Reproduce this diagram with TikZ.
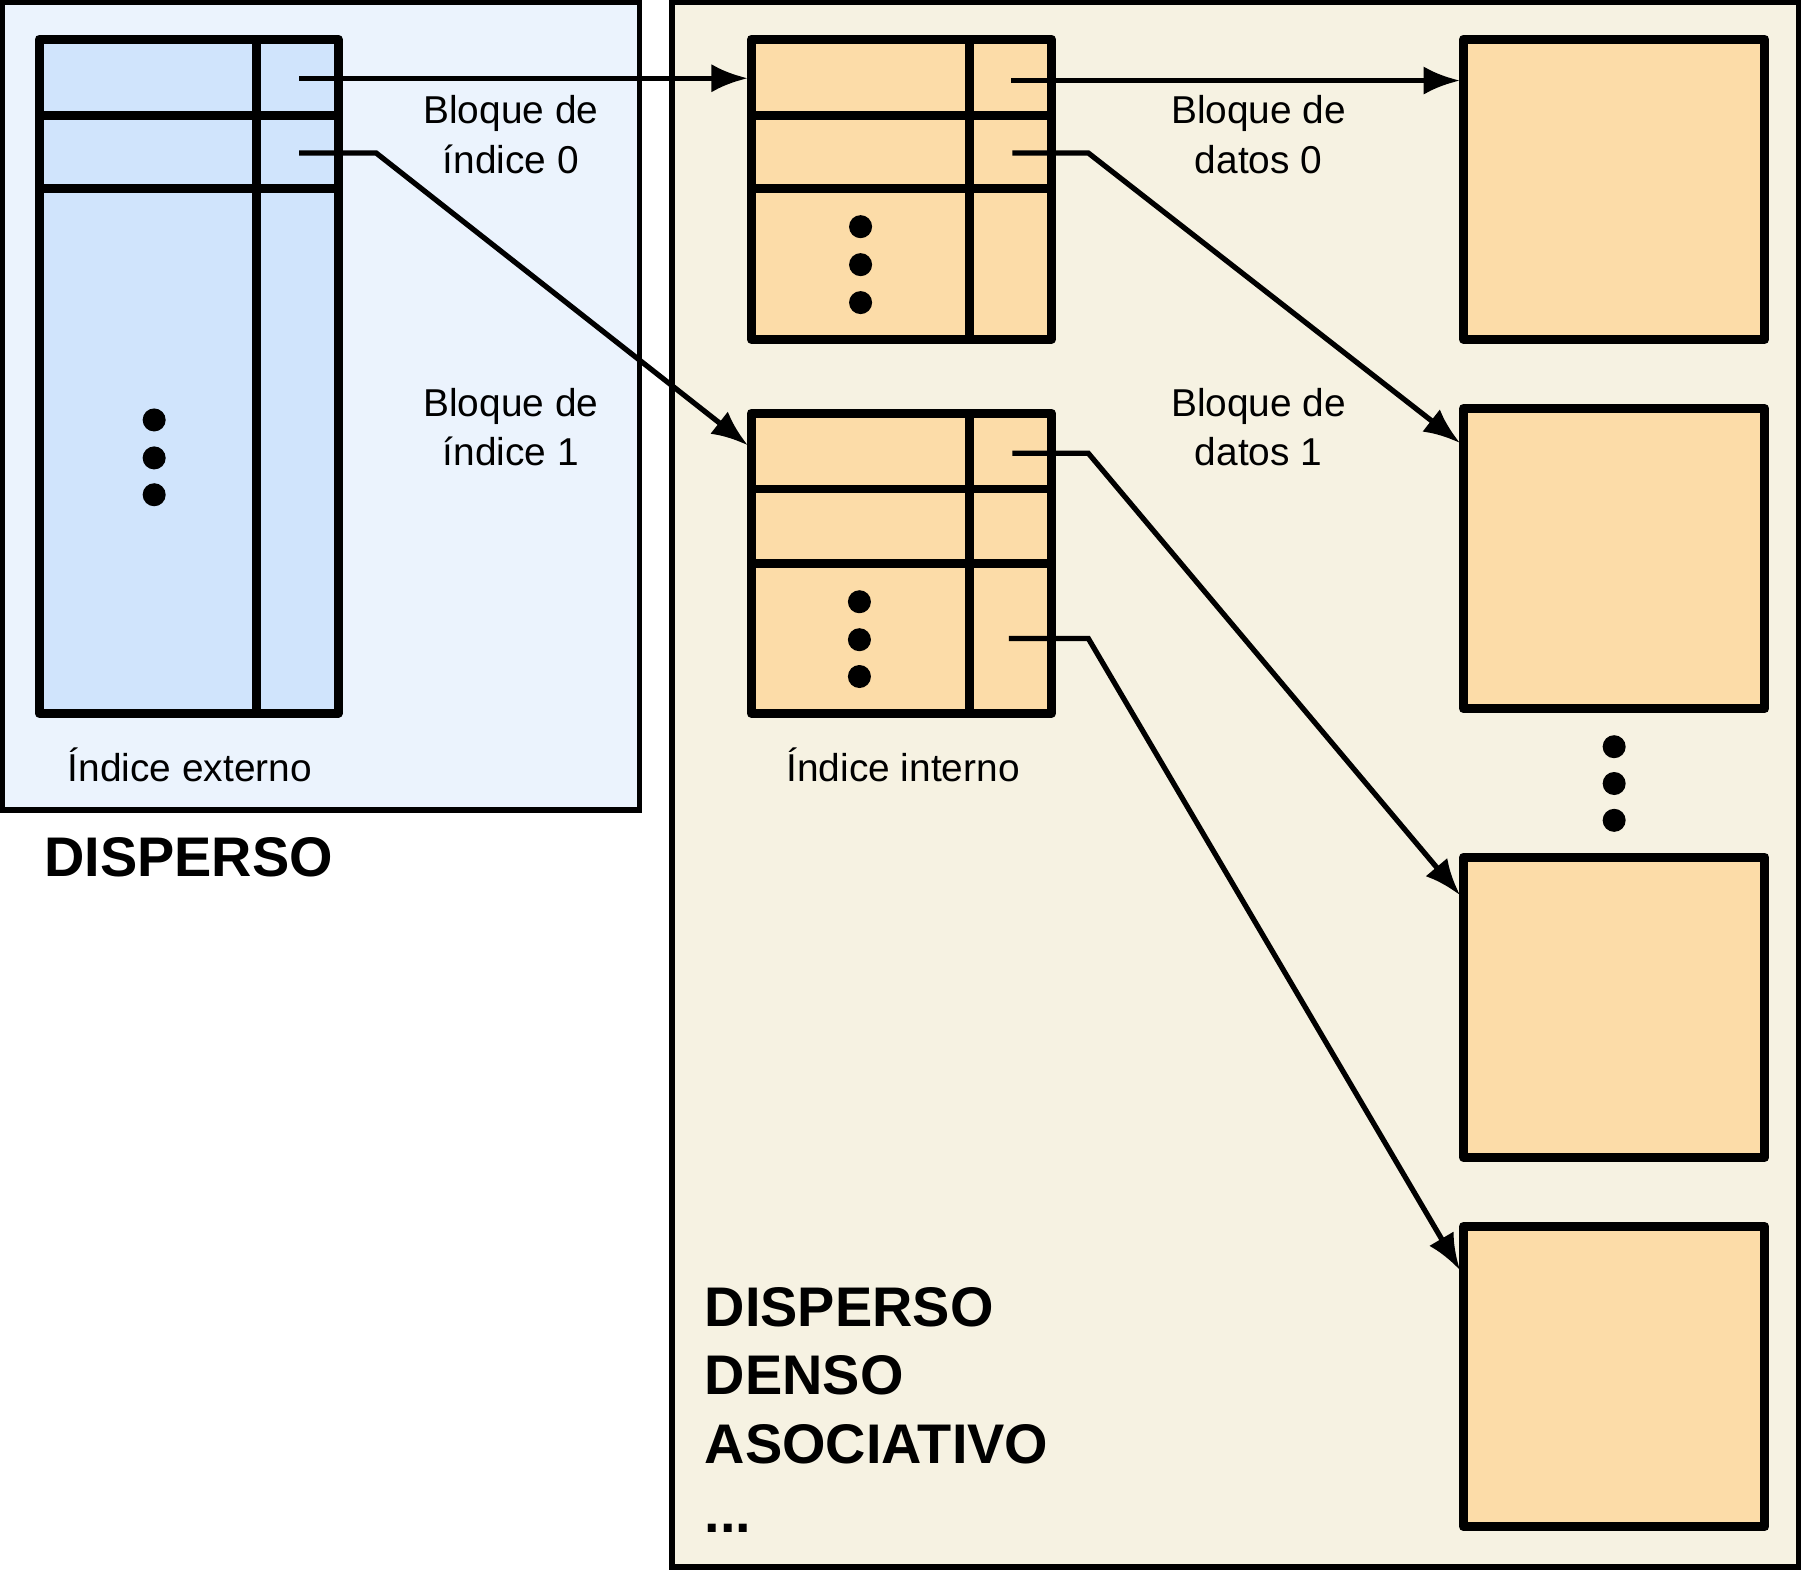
\documentclass[tikz,border=0pt]{standalone}
\usepackage{fontspec}
\setmainfont{Liberation Sans}
\usetikzlibrary{positioning}
\definecolor{outerbg}{HTML}{EBF3FD}
\definecolor{innerbg}{HTML}{F6F2E2}
\definecolor{bluecell}{HTML}{D0E4FC}
\definecolor{orangecell}{HTML}{FCDCA8}
\tikzset{
  panel/.style = {draw, line width=1.3pt},
  table/.style = {draw, line width=2.2pt, line join=round},
  dot/.style = {circle, fill, inner sep=0pt, minimum size=0.2cm},
  lbl/.style = {align=center, font=\fontsize{9.6}{12.2}\selectfont},
  big/.style = {align=left, anchor=north west, font=\fontsize{13.8}{17}\selectfont\bfseries},
  arrow/.style = {line width=1.3pt, -{Latex[length=9pt,width=7pt]}},
}
\usetikzlibrary{arrows.meta}
\begin{document}
\begin{tikzpicture}[x=0.01cm,y=-0.01cm]
        \useasboundingbox (0,0) rectangle (1568,1365);

        % Panels
        \draw[panel, fill=outerbg] (2,2) rectangle (556,704);
        \draw[panel, fill=innerbg] (584,2) rectangle (1563,1362);

        % External index
        \draw[table, fill=bluecell] (34,34) rectangle (294,620);
        \draw[table] (34,100) -- (294,100);
        \draw[table] (34,164) -- (294,164);
        \draw[table] (223,34) -- (223,620);
        \foreach \y in {365,398,430} \node[dot] at (134,\y) {};

        % Internal index blocks
        \draw[table, fill=orangecell] (653,34) rectangle (914,295);
        \draw[table] (653,100) -- (914,100);
        \draw[table] (653,164) -- (914,164);
        \draw[table] (843,34) -- (843,295);
        \foreach \y in {197,230,263} \node[dot] at (748,\y) {};

        \draw[table, fill=orangecell] (653,359) rectangle (914,620);
        \draw[table] (653,425) -- (914,425);
        \draw[table] (653,490) -- (914,490);
        \draw[table] (843,359) -- (843,620);
        \foreach \y in {523,556,588} \node[dot] at (747,\y) {};

        % Data blocks
        \foreach \t/\b in {34/295, 355/616, 745/1006, 1066/1327}
            \draw[table, fill=orangecell] (1272,\t) rectangle (1534,\b);
        \foreach \y in {649,681,713} \node[dot] at (1403,\y) {};

        % Labels
        \node[lbl] (bi0) at (444,117) {Bloque de\\índice 0};
        \node[lbl] (bi1) at (444,371) {Bloque de\\índice 1};
        \node[lbl] (bd0) at (1094,117) {Bloque de\\datos 0};
        \node[lbl] (bd1) at (1094,371) {Bloque de\\datos 1};
        \node[lbl] (ext) at (165,665) {Índice externo};
        \node[lbl] (int) at (785,665) {Índice interno};
        \node[big, anchor=west] (disp) at (26,745) {DISPERSO};
        \node[big, inner sep=0pt] (types) at (612,1118) {DISPERSO\\DENSO\\ASOCIATIVO\\...};

        % Connector ends
        \coordinate (e0) at (260,68);
        \coordinate (e1) at (260,133);
        \coordinate (i0) at (650,68);
        \coordinate (i1) at (650,387);
        \coordinate (a0) at (879,70);
        \coordinate (a1) at (880,133);
        \coordinate (b0) at (880,394);
        \coordinate (b1) at (877,555);
        \coordinate (d0) at (1269,70);
        \coordinate (d1) at (1269,385);
        \coordinate (d2) at (1269,778);
        \coordinate (d3) at (1269,1104);

        % Draw Arrows
        \draw[arrow] (e0) -- (i0);
        \draw[arrow] (e1) -- (327,133) -- (i1);
        \draw[arrow] (a0) -- (d0);
        \draw[arrow] (a1) -- (946,133) -- (d1);
        \draw[arrow] (b0) -- (946,394) -- (d2);
        \draw[arrow] (b1) -- (946,555) -- (d3);
    \end{tikzpicture}
\end{document}
